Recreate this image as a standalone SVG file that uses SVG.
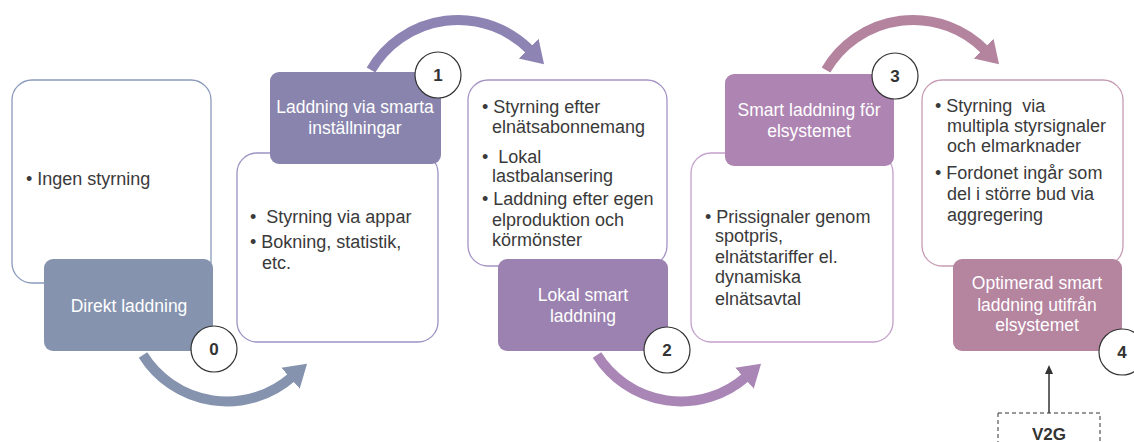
<svg xmlns="http://www.w3.org/2000/svg" width="1134" height="442" viewBox="0 0 1134 442">
<style>
.t{font-family:"Liberation Sans",Arial,sans-serif;font-size:18px;fill:#3a3a3a;white-space:pre}
.h{font-family:"Liberation Sans",Arial,sans-serif;font-size:17.5px;fill:#ffffff;text-anchor:middle}
.n{font-family:"Liberation Sans",Arial,sans-serif;font-size:17px;font-weight:bold;fill:#333;text-anchor:middle}
.w{fill:#ffffff;stroke-width:1.3}
.num{fill:#ffffff;stroke:#333;stroke-width:1.2}
.arc{fill:none;stroke-width:10}
</style>
<defs>
<marker id="m0" markerUnits="userSpaceOnUse" markerWidth="26" markerHeight="30" refX="2" refY="15" orient="auto"><path d="M0,1 L22,15 L0,29 z" fill="#8593ae"/></marker>
<marker id="m1" markerUnits="userSpaceOnUse" markerWidth="26" markerHeight="30" refX="2" refY="15" orient="auto"><path d="M0,1 L22,15 L0,29 z" fill="#8d84b4"/></marker>
<marker id="m2" markerUnits="userSpaceOnUse" markerWidth="26" markerHeight="30" refX="2" refY="15" orient="auto"><path d="M0,1 L22,15 L0,29 z" fill="#a986b5"/></marker>
<marker id="m3" markerUnits="userSpaceOnUse" markerWidth="26" markerHeight="30" refX="2" refY="15" orient="auto"><path d="M0,1 L22,15 L0,29 z" fill="#b4849f"/></marker>
<marker id="mv" markerUnits="userSpaceOnUse" markerWidth="10" markerHeight="10" refX="1" refY="4" orient="auto"><path d="M0,0 L9,4 L0,8 z" fill="#333"/></marker>
</defs>

<g id="connectors">
<path class="arc" stroke="#8593ae" d="M143,355 A99,99 0 0 0 292,377" marker-end="url(#m0)"/>
<path class="arc" stroke="#8d84b4" d="M371,70 A101,101 0 0 1 530,50" marker-end="url(#m1)"/>
<path class="arc" stroke="#a986b5" d="M597,355 A99,99 0 0 0 746,377" marker-end="url(#m2)"/>
<path class="arc" stroke="#b4849f" d="M826,70 A101,101 0 0 1 985,50" marker-end="url(#m3)"/>
<line x1="1049" y1="413" x2="1049" y2="373" stroke="#333" stroke-width="1.5" marker-end="url(#mv)"/>
</g>

<g id="stage0">
<rect class="w" x="12" y="80" width="199" height="203" rx="20" stroke="#8b9bbd"/>
<text class="t" x="26" y="185">• Ingen styrning</text>
<rect x="44" y="259" width="169" height="92" rx="9" fill="#8593ae"/>
<text class="h" x="129" y="312">Direkt laddning</text>
<circle class="num" cx="214" cy="349" r="23"/>
<text class="n" x="214" y="355">0</text>
</g>

<g id="stage1">
<rect class="w" x="237" y="153" width="201" height="189" rx="20" stroke="#9b93c3"/>
<text class="t" x="250" y="223">•  Styrning via appar</text>
<text class="t" x="250" y="248">• Bokning, statistik,</text>
<text class="t" x="262" y="269">etc.</text>
<rect x="270" y="72" width="171" height="92" rx="9" fill="#8884ad"/>
<text class="h" x="355" y="113">Laddning via smarta</text>
<text class="h" x="355" y="134">inställningar</text>
<circle class="num" cx="438" cy="75" r="23"/>
<text class="n" x="438" y="81">1</text>
</g>

<g id="stage2">
<rect class="w" x="468" y="80" width="199" height="186" rx="20" stroke="#a693c4"/>
<text class="t" x="482" y="113">• Styrning efter</text>
<text class="t" x="492" y="133">elnätsabonnemang</text>
<text class="t" x="482" y="163">•  Lokal</text>
<text class="t" x="492" y="182">lastbalansering</text>
<text class="t" x="482" y="205">• Laddning efter egen</text>
<text class="t" x="492" y="226">elproduktion och</text>
<text class="t" x="492" y="246">körmönster</text>
<rect x="498" y="259" width="170" height="92" rx="9" fill="#9b82b0"/>
<text class="h" x="583" y="301">Lokal smart</text>
<text class="h" x="583" y="322">laddning</text>
<circle class="num" cx="667" cy="350" r="23"/>
<text class="n" x="667" y="356">2</text>
</g>

<g id="stage3">
<rect class="w" x="691" y="153" width="202" height="189" rx="20" stroke="#c59fcc"/>
<text class="t" x="705" y="223">• Prissignaler genom</text>
<text class="t" x="715" y="242">spotpris,</text>
<text class="t" x="715" y="263">elnätstariffer el.</text>
<text class="t" x="715" y="283">dynamiska</text>
<text class="t" x="715" y="305">elnätsavtal</text>
<rect x="725" y="74" width="169" height="92" rx="9" fill="#ae84b2"/>
<text class="h" x="809" y="116">Smart laddning för</text>
<text class="h" x="809" y="137">elsystemet</text>
<circle class="num" cx="895" cy="76" r="23"/>
<text class="n" x="895" y="82">3</text>
</g>

<g id="stage4">
<rect class="w" x="922" y="80" width="201" height="186" rx="20" stroke="#c69cb5"/>
<text class="t" x="935" y="112">• Styrning  via</text>
<text class="t" x="947" y="132">multipla styrsignaler</text>
<text class="t" x="947" y="152">och elmarknader</text>
<text class="t" x="935" y="179">• Fordonet ingår som</text>
<text class="t" x="947" y="200">del i större bud via</text>
<text class="t" x="947" y="221">aggregering</text>
<rect x="953" y="259" width="169" height="92" rx="9" fill="#b5849f"/>
<text class="h" x="1037" y="289">Optimerad smart</text>
<text class="h" x="1037" y="311">laddning utifrån</text>
<text class="h" x="1037" y="331">elsystemet</text>
<circle class="num" cx="1122" cy="352" r="23"/>
<text class="n" x="1122" y="358">4</text>
</g>

<g id="v2g">
<rect x="998" y="413" width="102" height="40" fill="#ffffff" stroke="#333" stroke-width="1" stroke-dasharray="4,3"/>
<text class="n" x="1049" y="440" style="font-size:17px">V2G</text>
</g>
</svg>
